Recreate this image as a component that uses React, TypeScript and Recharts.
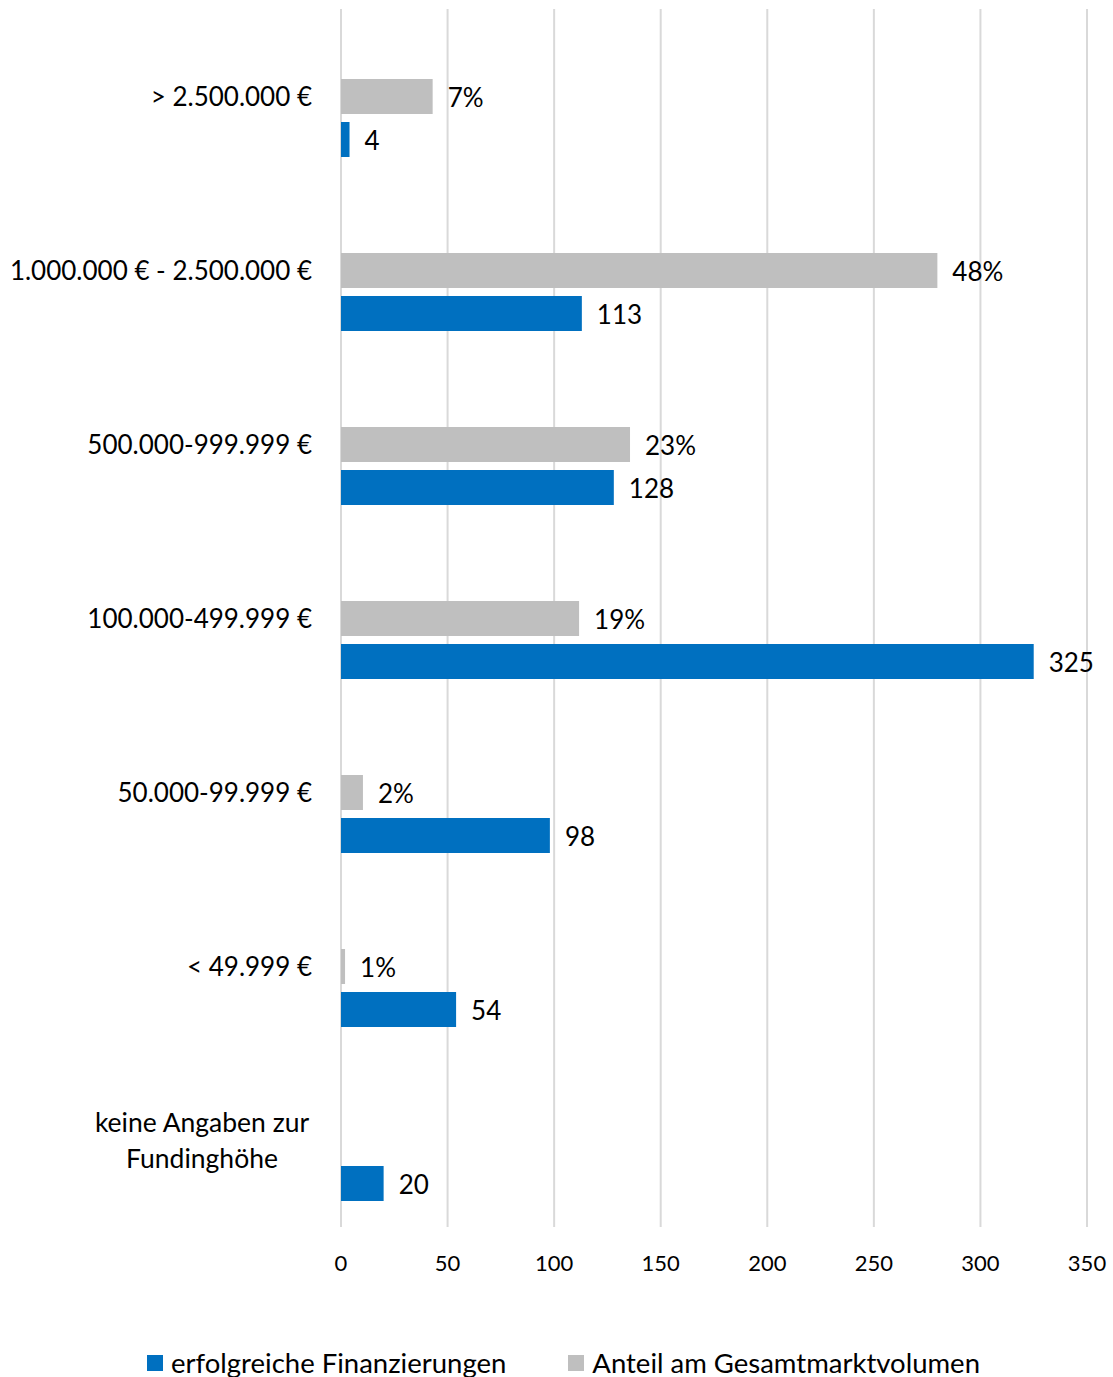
import { BarChart, Bar, XAxis, YAxis, CartesianGrid, Legend, LabelList } from 'recharts'

const categories = [
  '> 2.500.000 €',
  '1.000.000 € - 2.500.000 €',
  '500.000-999.999 €',
  '100.000-499.999 €',
  '50.000-99.999 €',
  '< 49.999 €',
  'keine Angaben zur\nFundinghöhe',
]
const financings = [4, 113, 128, 325, 98, 54, 20]
// share bars are drawn on the count axis, as in the original
const shareBars = [43, 279.8, 135.6, 111.7, 10.3, 1.9, null]
const shareLabels = ['7%', '48%', '23%', '19%', '2%', '1%', null]
const xTicks = [0, 50, 100, 150, 200, 250, 300, 350]

const BLUE = '#0070c0'
const GRAY = '#bfbfbf'
const FONT = 'Lato, sans-serif'

const data = categories.map((name, i) => ({
  name,
  financings: financings[i],
  share: shareBars[i],
  shareLabel: shareLabels[i],
}))

const legendItems = [
  { name: 'erfolgreiche Finanzierungen', color: BLUE },
  { name: 'Anteil am Gesamtmarktvolumen', color: GRAY },
]

function CategoryTick({ x, y, payload }: any) {
  const lines = String(payload.value).split('\n')
  if (lines.length === 1) {
    return (
      <text x={x} y={y} dy="0.38em" textAnchor="end" fontSize={26} fontFamily={FONT} fill="#000">
        {payload.value}
      </text>
    )
  }
  const cx = x - 110
  return (
    <text textAnchor="middle" fontSize={26.5} fontFamily={FONT} fill="#000">
      {lines.map((l, i) => (
        <tspan key={i} x={cx} y={y + (i - (lines.length - 1) / 2) * 36} dy="0.38em">
          {l}
        </tspan>
      ))}
    </text>
  )
}

function LegendContent() {
  return (
    <div style={{ height: 40, display: 'flex', justifyContent: 'center', gap: 62, fontFamily: FONT, fontSize: 27.5, color: '#000', paddingTop: 12, paddingLeft: 40, boxSizing: 'border-box' }}>
      {legendItems.map((it) => (
        <div key={it.name} style={{ display: 'flex', alignItems: 'center', gap: 8, lineHeight: '30px' }}>
          <span style={{ width: 16, height: 16, background: it.color, display: 'inline-block' }} />
          <span>{it.name}</span>
        </div>
      ))}
    </div>
  )
}

export default function App() {
  return (
    <div style={{ position: 'absolute', left: 0, top: 0 }}>
      <BarChart
        width={1113}
        height={1377}
        data={data}
        layout="vertical"
        margin={{ top: 9, right: 26, bottom: 0, left: 0 }}
        barSize={35}
        barGap={8}
      >
        <CartesianGrid horizontal={false} stroke="#d9d9d9" strokeWidth={2} />
        <XAxis
          type="number"
          domain={[0, 350]}
          ticks={xTicks}
          axisLine={false}
          tickLine={false}
          tickSize={0}
          tickMargin={28}
          height={110}
          tick={{ fontSize: 22, fontFamily: FONT, fill: '#000' }}
        />
        <YAxis
          type="category"
          dataKey="name"
          width={341}
          axisLine={false}
          tickLine={false}
          tickSize={0}
          tickMargin={29}
          interval={0}
          tick={<CategoryTick />}
        />
        <Legend verticalAlign="bottom" content={<LegendContent />} />
        <Bar dataKey="spacer" fill="none" isAnimationActive={false} />
        <Bar dataKey="share" fill={GRAY} isAnimationActive={false}>
          <LabelList dataKey="shareLabel" position="right" offset={15} dy={1} fontSize={26} fontFamily={FONT} fill="#000" />
        </Bar>
        <Bar dataKey="financings" fill={BLUE} isAnimationActive={false}>
          <LabelList dataKey="financings" position="right" offset={15} dy={1} fontSize={26} fontFamily={FONT} fill="#000" />
        </Bar>
      </BarChart>
    </div>
  )
}
